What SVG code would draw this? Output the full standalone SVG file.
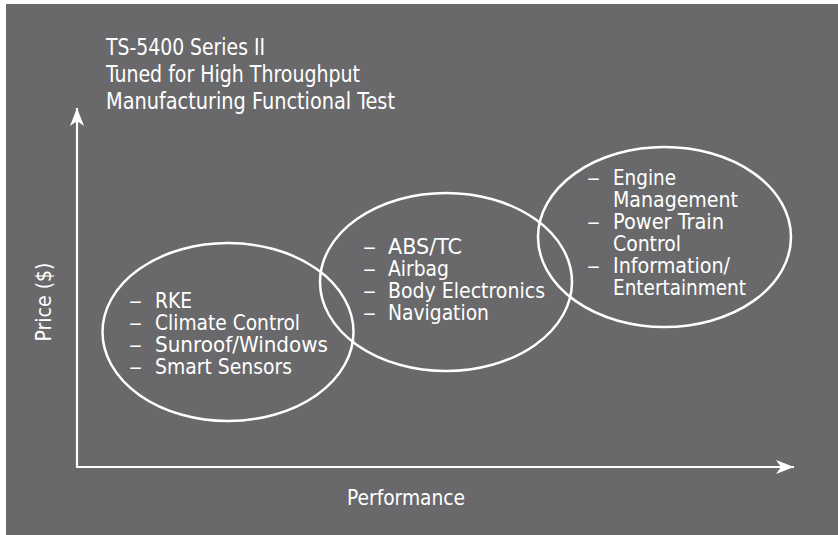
<svg xmlns="http://www.w3.org/2000/svg" width="838" height="535" viewBox="0 0 838 535">
  <defs>
    <style>
      .t { font-family: "Liberation Sans Narrow", "DejaVu Sans Condensed", "Liberation Sans", sans-serif; fill: #ffffff; }
      .title { font-size: 23px; }
      .body { font-size: 21px; }
      .axis-label { font-size: 21px; }
      .oval { fill: none; stroke: #ffffff; stroke-width: 2.5; }
      .axis { fill: none; stroke: #ffffff; stroke-width: 2.2; }
    </style>
    <marker id="arrow" markerUnits="userSpaceOnUse" markerWidth="20" markerHeight="14" viewBox="0 0 20 14" refX="18" refY="7" orient="auto">
      <path d="M0,0 L18,7 L0,14 L5,7 Z" fill="#ffffff"/>
    </marker>
  </defs>

  <rect x="6" y="4" width="832" height="531" fill="#69696b"/>

  <g id="title">
    <text class="t title" x="106" y="55" textLength="159" lengthAdjust="spacingAndGlyphs">TS-5400 Series II</text>
    <text class="t title" x="106" y="82" textLength="254" lengthAdjust="spacingAndGlyphs">Tuned for High Throughput</text>
    <text class="t title" x="106" y="109" textLength="289" lengthAdjust="spacingAndGlyphs">Manufacturing Functional Test</text>
  </g>

  <g id="connectors">
    <line class="axis" x1="77" y1="467" x2="77" y2="108" marker-end="url(#arrow)"/>
    <line class="axis" x1="76" y1="467" x2="794" y2="467" marker-end="url(#arrow)"/>
  </g>

  <g id="axis-y-label">
    <text class="t axis-label" transform="translate(51,302) rotate(-90)" text-anchor="middle" textLength="79" lengthAdjust="spacingAndGlyphs">Price ($)</text>
  </g>
  <g id="axis-x-label">
    <text class="t axis-label" x="347" y="505" textLength="118" lengthAdjust="spacingAndGlyphs">Performance</text>
  </g>

  <g id="node-body">
    <ellipse class="oval" cx="228" cy="332" rx="125.5" ry="89"/>
    <text class="t body" x="129" y="308" textLength="13" lengthAdjust="spacingAndGlyphs">–</text>
    <text class="t body" x="155" y="308" textLength="37" lengthAdjust="spacingAndGlyphs">RKE</text>
    <text class="t body" x="129" y="330" textLength="13" lengthAdjust="spacingAndGlyphs">–</text>
    <text class="t body" x="155" y="330" textLength="145" lengthAdjust="spacingAndGlyphs">Climate Control</text>
    <text class="t body" x="129" y="352" textLength="13" lengthAdjust="spacingAndGlyphs">–</text>
    <text class="t body" x="155" y="352" textLength="173" lengthAdjust="spacingAndGlyphs">Sunroof/Windows</text>
    <text class="t body" x="129" y="374" textLength="13" lengthAdjust="spacingAndGlyphs">–</text>
    <text class="t body" x="155" y="374" textLength="137" lengthAdjust="spacingAndGlyphs">Smart Sensors</text>
  </g>

  <g id="node-safety">
    <ellipse class="oval" cx="446" cy="282" rx="126" ry="89"/>
    <text class="t body" x="363" y="254" textLength="13" lengthAdjust="spacingAndGlyphs">–</text>
    <text class="t body" x="388" y="254" textLength="74" lengthAdjust="spacingAndGlyphs">ABS/TC</text>
    <text class="t body" x="363" y="276" textLength="13" lengthAdjust="spacingAndGlyphs">–</text>
    <text class="t body" x="388" y="276" textLength="61" lengthAdjust="spacingAndGlyphs">Airbag</text>
    <text class="t body" x="363" y="298" textLength="13" lengthAdjust="spacingAndGlyphs">–</text>
    <text class="t body" x="388" y="298" textLength="157" lengthAdjust="spacingAndGlyphs">Body Electronics</text>
    <text class="t body" x="363" y="320" textLength="13" lengthAdjust="spacingAndGlyphs">–</text>
    <text class="t body" x="388" y="320" textLength="101" lengthAdjust="spacingAndGlyphs">Navigation</text>
  </g>

  <g id="node-powertrain">
    <ellipse class="oval" cx="664.5" cy="237" rx="126.5" ry="90"/>
    <text class="t body" x="587" y="185" textLength="13" lengthAdjust="spacingAndGlyphs">–</text>
    <text class="t body" x="613" y="185" textLength="63" lengthAdjust="spacingAndGlyphs">Engine</text>
    <text class="t body" x="613" y="207" textLength="125" lengthAdjust="spacingAndGlyphs">Management</text>
    <text class="t body" x="587" y="229" textLength="13" lengthAdjust="spacingAndGlyphs">–</text>
    <text class="t body" x="613" y="229" textLength="111" lengthAdjust="spacingAndGlyphs">Power Train</text>
    <text class="t body" x="613" y="251" textLength="68" lengthAdjust="spacingAndGlyphs">Control</text>
    <text class="t body" x="587" y="273" textLength="13" lengthAdjust="spacingAndGlyphs">–</text>
    <text class="t body" x="613" y="273" textLength="117" lengthAdjust="spacingAndGlyphs">Information/</text>
    <text class="t body" x="613" y="295" textLength="133" lengthAdjust="spacingAndGlyphs">Entertainment</text>
  </g>
</svg>
